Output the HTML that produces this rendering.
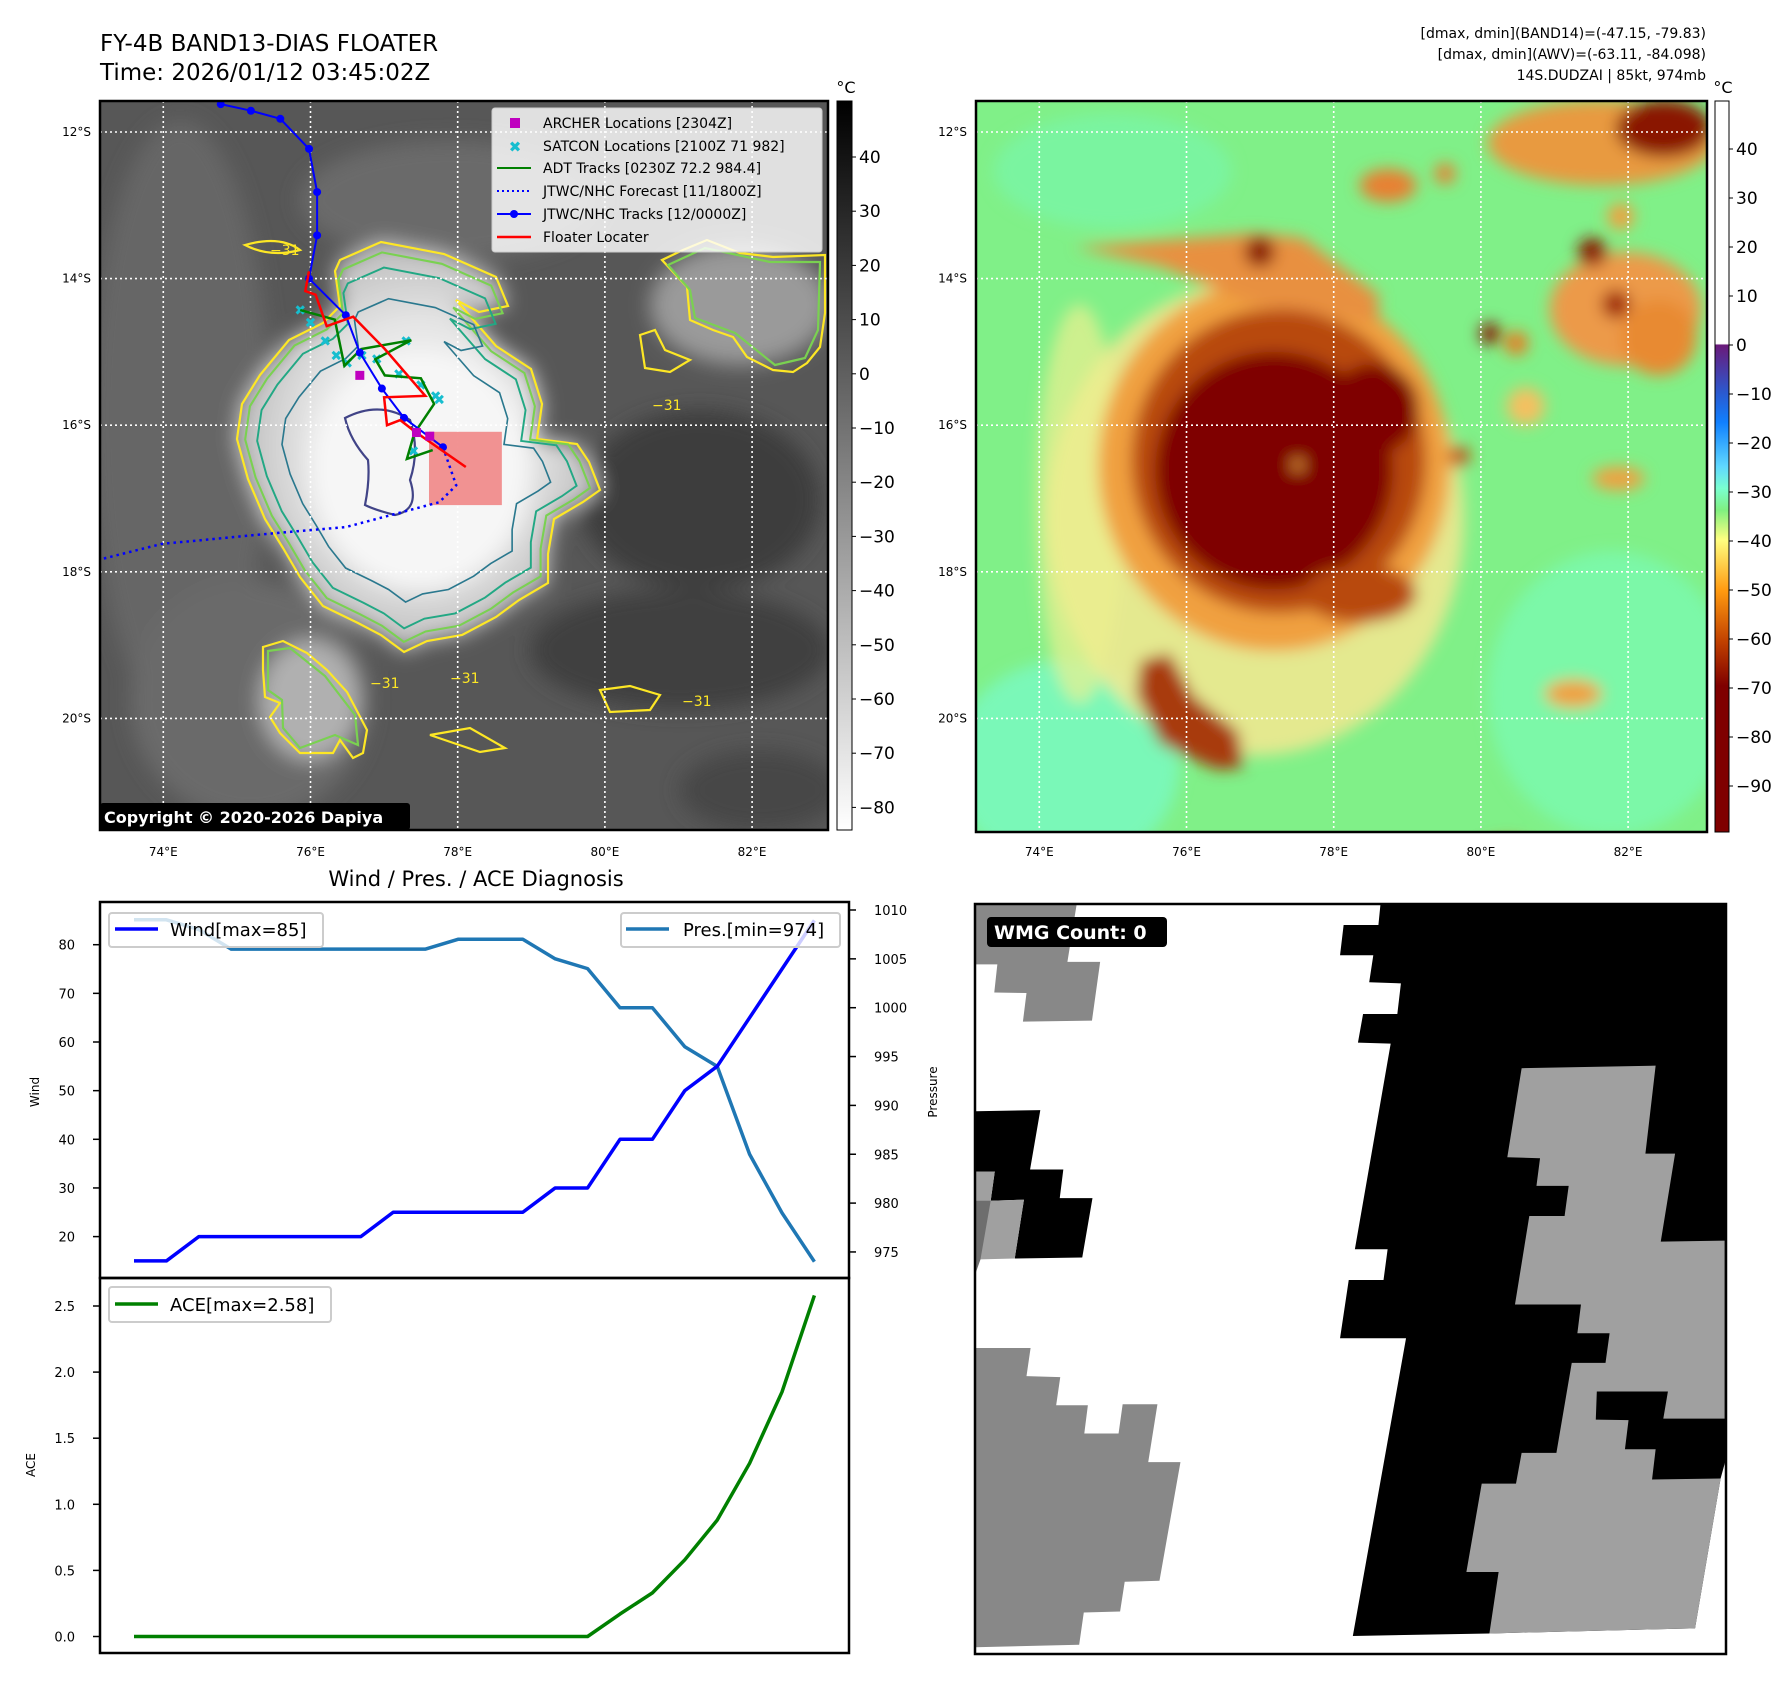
<!DOCTYPE html>
<html><head><meta charset="utf-8">
<style>
html,body{margin:0;padding:0;background:#fff;}
body{width:1792px;height:1690px;overflow:hidden;font-family:"DejaVu Sans","Liberation Sans",sans-serif;}
svg{position:absolute;left:0;top:0;}
text{font-family:"DejaVu Sans","Liberation Sans",sans-serif;}
</style></head>
<body>
<svg id="root" width="1792" height="1690" viewBox="0 0 1792 1690" xmlns="http://www.w3.org/2000/svg">
<defs>
  <filter id="blurL" x="-20%" y="-20%" width="140%" height="140%"><feGaussianBlur stdDeviation="10"/></filter>
  <filter id="blurR" x="-20%" y="-20%" width="140%" height="140%"><feGaussianBlur stdDeviation="16"/></filter>
  <clipPath id="clipL"><rect x="100" y="101" width="728" height="729"/></clipPath>
  <clipPath id="clipR"><rect x="976" y="101" width="731" height="731"/></clipPath>
  <clipPath id="clipW"><rect x="975" y="904" width="751" height="750"/></clipPath>
  <path id="cy" d="M340,260 L381,242 L444,254 L496,277 L508,306 L479,312 L456,300 L496,346 L531,369 L542,404 L537,439 L577,444 L589,462 L600,490 L583,502 L554,519 L548,554 L548,583 L519,600 L496,617 L462,635 L427,641 L404,652 L381,635 L358,623 L323,606 L300,577 L283,548 L265,519 L248,479 L237,439 L242,404 L260,375 L289,340 L323,323 L340,306 L335,271 Z"/>
  <linearGradient id="cbGray" x1="0" y1="0" x2="0" y2="1">
    <stop offset="0" stop-color="#000"/><stop offset="1" stop-color="#fff"/>
  </linearGradient>
  <linearGradient id="cbColor" x1="0" y1="0" x2="0" y2="1">
    <stop offset="0" stop-color="#fff"/>
    <stop offset="0.332" stop-color="#fff"/>
    <stop offset="0.334" stop-color="#6a1a7a"/>
    <stop offset="0.40" stop-color="#2a5ad0"/>
    <stop offset="0.44" stop-color="#1080ff"/>
    <stop offset="0.50" stop-color="#60d8ff"/>
    <stop offset="0.53" stop-color="#7affd0"/>
    <stop offset="0.56" stop-color="#80f080"/>
    <stop offset="0.60" stop-color="#ffff80"/>
    <stop offset="0.67" stop-color="#ff9a10"/>
    <stop offset="0.74" stop-color="#c04000"/>
    <stop offset="0.80" stop-color="#7f0000"/>
    <stop offset="1" stop-color="#7f0000"/>
  </linearGradient>
  <radialGradient id="stormGray" cx="0.5" cy="0.5" r="0.5">
    <stop offset="0" stop-color="#fafafa"/><stop offset="0.6" stop-color="#e6e6e6"/><stop offset="1" stop-color="#bdbdbd"/>
  </radialGradient>
</defs>

<!-- ===== Titles ===== -->
<text x="100" y="51" font-size="23" fill="#000">FY-4B BAND13-DIAS FLOATER</text>
<text x="100" y="80" font-size="23" fill="#000">Time: 2026/01/12 03:45:02Z</text>
<g font-size="14" text-anchor="end" fill="#000">
  <text x="1706" y="38">[dmax, dmin](BAND14)=(-47.15, -79.83)</text>
  <text x="1706" y="59">[dmax, dmin](AWV)=(-63.11, -84.098)</text>
  <text x="1706" y="80">14S.DUDZAI | 85kt, 974mb</text>
</g>

<!-- ===== Left IR map ===== -->
<g id="leftMap" clip-path="url(#clipL)">
  <rect x="100" y="101" width="728" height="729" fill="#575757"/>
  <g filter="url(#blurL)">
    <ellipse cx="180" cy="420" rx="90" ry="300" fill="#666"/>
    <ellipse cx="250" cy="700" rx="120" ry="120" fill="#6a6a6a"/>
    <ellipse cx="700" cy="500" rx="120" ry="90" fill="#3c3c3c"/>
    <ellipse cx="680" cy="650" rx="150" ry="60" fill="#404040"/>
    <ellipse cx="760" cy="790" rx="80" ry="40" fill="#474747"/>
    <ellipse cx="450" cy="200" rx="150" ry="60" fill="#6a6a6a"/>
    <ellipse cx="740" cy="305" rx="90" ry="60" fill="#9a9a9a"/>
    <ellipse cx="310" cy="700" rx="50" ry="60" fill="#b0b0b0"/>
    <use href="#cy" fill="url(#stormGray)"/>
    <ellipse cx="420" cy="470" rx="110" ry="120" fill="#f6f6f6"/>
  </g>
  <!-- contours -->
  <g fill="none" stroke-width="2.2">
    <use href="#cy" stroke="#fde725"/>
    <use href="#cy" transform="translate(400,450) scale(0.95) translate(-400,-450)" stroke="#7ad151"/>
    <use href="#cy" transform="translate(405,455) scale(0.88) translate(-405,-455)" stroke="#22a884"/>
    <use href="#cy" transform="translate(410,460) scale(0.74) translate(-410,-460)" stroke="#2a788e"/>
    <path d="M345,418 Q380,400 410,420 Q420,450 410,480 Q420,510 395,515 Q375,510 365,505 Q370,480 368,460 Q350,440 345,418 Z" stroke="#414487"/>
    <path d="M662,260 L687,287 L690,320 L713,330 L733,337 L747,357 L773,370 L793,372 L807,363 L820,347 L825,313 L825,255 L773,257 L740,253 L707,240 L683,250 Z" stroke="#fde725"/>
    <path d="M668,265 L690,290 L695,318 L735,333 L775,365 L805,358 L818,330 L820,262 L770,262 L705,248 Z" stroke="#7ad151"/>
    <path d="M263,647 L283,641 L307,653 L327,670 L347,692 L367,730 L363,753 L353,758 L340,740 L333,753 L300,753 L280,733 L270,717 L280,703 L265,697 L263,670 Z" stroke="#fde725"/>
    <path d="M268,651 L290,648 L325,676 L355,715 L358,745 L335,735 L300,748 L283,728 L282,700 L268,690 Z" stroke="#7ad151"/>
    <path d="M430,735 L470,728 L505,748 L480,752 Z" stroke="#fde725"/>
    <path d="M600,690 L630,686 L660,695 L650,710 L610,712 Z" stroke="#fde725"/>
    <path d="M640,335 L655,330 L665,350 L690,360 L670,372 L645,368 Z" stroke="#fde725"/>
    <path d="M245,245 Q280,235 300,250 Q270,258 245,245 Z" stroke="#fde725"/>
  </g>
  <g font-size="14" fill="#fde725">
    <text x="270" y="255">−31</text><text x="652" y="410">−31</text><text x="450" y="683">−31</text><text x="370" y="688">−31</text>
    <text x="682" y="706">−31</text>
  </g>
  <g id="gridL" stroke="#fff" stroke-width="1.6" stroke-dasharray="2,3"></g>
  <rect id="floaterBox" fill="#f08080" fill-opacity="0.85"/>
  <g id="tracks"></g>
  <g>
    <rect x="492" y="108" width="330" height="144" rx="3" fill="#fff" fill-opacity="0.82" stroke="#ccc"/>
    <rect x="510" y="118" width="10" height="10" fill="#bf00bf"/>
    <text x="515" y="152" font-size="15" font-weight="bold" fill="#17becf" text-anchor="middle">✖</text>
    <line x1="497" y1="168" x2="531" y2="168" stroke="#008000" stroke-width="2"/>
    <line x1="497" y1="191" x2="531" y2="191" stroke="#0000ff" stroke-width="2" stroke-dasharray="2,3"/>
    <line x1="497" y1="214" x2="531" y2="214" stroke="#0000ff" stroke-width="2"/><circle cx="514" cy="214" r="4" fill="#0000ff"/>
    <line x1="497" y1="237" x2="531" y2="237" stroke="#ff0000" stroke-width="2.5"/>
    <g font-size="14" fill="#000">
      <text x="543" y="128">ARCHER Locations [2304Z]</text>
      <text x="543" y="151">SATCON Locations [2100Z 71 982]</text>
      <text x="543" y="173">ADT Tracks [0230Z 72.2 984.4]</text>
      <text x="543" y="196">JTWC/NHC Forecast [11/1800Z]</text>
      <text x="543" y="219">JTWC/NHC Tracks [12/0000Z]</text>
      <text x="543" y="242">Floater Locater</text>
    </g>
  </g>
  <rect x="100" y="803" width="310" height="27" rx="3" fill="#000"/>
  <text x="104" y="823" font-size="16" font-weight="bold" fill="#fff">Copyright © 2020-2026 Dapiya</text>
</g>
<rect x="100" y="101" width="728" height="729" fill="none" stroke="#000" stroke-width="2.5"/>
<g id="ticksL" font-size="12" fill="#000"></g>

<rect x="837" y="101" width="15" height="729" fill="url(#cbGray)" stroke="#000" stroke-width="1"/>
<text x="846" y="93" font-size="16" text-anchor="middle">°C</text>
<g id="cbLticks" font-size="17" fill="#000"></g>

<!-- ===== Right colored map ===== -->
<g clip-path="url(#clipR)">
  <rect x="976" y="101" width="731" height="731" fill="#80f088"/>
  <g transform="translate(970,100) scale(0.475)" filter="url(#blurR)">
    <ellipse cx="200" cy="1400" rx="240" ry="220" fill="#7af8b8"/>
    <ellipse cx="1350" cy="1250" rx="260" ry="300" fill="#7cf8a8"/>
    <ellipse cx="300" cy="150" rx="250" ry="120" fill="#7af4a0"/>
    <ellipse cx="600" cy="880" rx="440" ry="500" fill="#f6e890" fill-opacity="0.85"/>
    <ellipse cx="230" cy="850" rx="90" ry="420" fill="#eef090" fill-opacity="0.7"/>
    <ellipse cx="640" cy="770" rx="370" ry="390" fill="#f0a040"/>
    <path d="M220,310 L600,280 L700,290 L860,410 L860,470 L600,430 L400,350 Z" fill="#e89040"/>
    <ellipse cx="650" cy="760" rx="310" ry="320" fill="#b84a10"/>
    <ellipse cx="640" cy="780" rx="250" ry="250" fill="#7f0000"/>
    <ellipse cx="850" cy="650" rx="95" ry="95" fill="#7f0000"/>
    <ellipse cx="820" cy="1040" rx="120" ry="60" fill="#b84a10"/>
    <circle cx="610" cy="320" r="32" fill="#8a1a00"/>
    <path d="M360,1180 L420,1165 L470,1255 L565,1330 L575,1405 L520,1410 L400,1355 L375,1300 L350,1250 Z" fill="#a83a08"/>
    <ellipse cx="1330" cy="90" rx="240" ry="90" fill="#e89a40"/>
    <ellipse cx="1460" cy="60" rx="100" ry="60" fill="#8a1800"/>
    <ellipse cx="1380" cy="440" rx="160" ry="120" fill="#ec9a48"/>
    <ellipse cx="1450" cy="500" rx="80" ry="80" fill="#e88a30"/>
    <circle cx="1310" cy="320" r="30" fill="#8a1800"/>
    <circle cx="1360" cy="430" r="30" fill="#a02800"/>
    <circle cx="1095" cy="492" r="22" fill="#8a1000"/>
    <circle cx="1150" cy="512" r="25" fill="#e87a20"/>
    <circle cx="1170" cy="645" r="40" fill="#f4c060"/>
    <ellipse cx="880" cy="180" rx="60" ry="35" fill="#e88030"/>
    <circle cx="1000" cy="155" r="22" fill="#e88030"/>
    <circle cx="1370" cy="245" r="28" fill="#f0a040"/>
    <ellipse cx="1365" cy="797" rx="55" ry="25" fill="#f0a040"/>
    <ellipse cx="1130" cy="1600" rx="70" ry="42" fill="#d86a10"/>
    <ellipse cx="1270" cy="1250" rx="60" ry="30" fill="#f0a040"/>
    <circle cx="1030" cy="750" r="22" fill="#c05010"/>
    <circle cx="690" cy="768" r="12" fill="#f0a040"/>
  </g>
  <g id="gridR" stroke="#fff" stroke-width="1.6" stroke-dasharray="2,3"></g>
</g>
<rect x="976" y="101" width="731" height="731" fill="none" stroke="#000" stroke-width="2.5"/>
<g id="ticksR" font-size="12" fill="#000"></g>
<rect x="1715" y="101" width="14" height="731" fill="url(#cbColor)" stroke="#000" stroke-width="1"/>
<text x="1723" y="93" font-size="16" text-anchor="middle">°C</text>
<g id="cbRticks" font-size="17" fill="#000"></g>

<!-- ===== Bottom-left charts ===== -->
<text x="476" y="886" font-size="21" text-anchor="middle">Wind / Pres. / ACE Diagnosis</text>
<g id="windChart"></g>
<g id="aceChart"></g>

<!-- ===== WMG panel ===== -->
<g clip-path="url(#clipW)">
  <rect x="975" y="904" width="751" height="750" fill="#fff"/>
  <g transform="translate(960,880) scale(0.5115)">
    <polygon points="30,48 228,48 210,160 274,160 258,275 123,277 130,221 67,220 73,165 30,165" fill="#888"/>
    <polygon points="822,48 1498,48 1498,1130 1487,1170 1437,1463 1035,1473 768,1478 872,896 743,896 760,782 828,782 836,722 772,722 842,320 778,318 788,262 855,262 862,202 800,200 808,147 743,147 750,88 818,88" fill="#000"/>
    <polygon points="1098,368 1360,363 1340,535 1398,535 1370,707 1495,705 1495,1053 1375,1053 1384,1000 1245,1000 1243,1055 1307,1056 1300,1113 1360,1113 1353,1172 1487,1170 1437,1463 1035,1473 1053,1353 990,1353 1020,1180 1087,1180 1098,1120 1166,1120 1196,944 1262,944 1270,886 1207,886 1214,830 1085,830 1113,657 1182,657 1190,598 1127,598 1134,544 1070,542" fill="#a0a0a0"/>
    <polygon points="30,452 157,450 137,566 202,566 195,622 259,622 239,738 107,740 125,625 60,627 68,570 30,570" fill="#000"/>
    <polygon points="30,570 68,570 60,627 125,625 107,740 30,742" fill="#a0a0a0"/>
    <polygon points="30,627 60,627 40,742 30,770" fill="#6e6e6e"/>
    <polygon points="30,915 138,915 130,970 196,972 188,1027 250,1027 243,1082 310,1082 318,1025 386,1025 368,1138 431,1138 390,1370 322,1372 313,1430 242,1432 233,1495 30,1500" fill="#888"/>
  </g>
  <rect x="987" y="917" width="180" height="30" rx="4" fill="#000"/>
  <text x="994" y="939" font-size="19" font-weight="bold" fill="#fff">WMG Count: 0</text>
</g>
<rect x="975" y="904" width="751" height="750" fill="none" stroke="#000" stroke-width="2.5"/>
</svg>

<script>
const jtwcLon = [74.78,75.19,75.59,75.98,76.09,76.09,75.98,76.48,76.67,76.97,77.27,77.80];
const jtwcLat = [11.62,11.71,11.82,12.23,12.82,13.41,14.00,14.50,15.01,15.50,15.90,16.30];
const fcstLon = [77.80,77.98,77.75,76.48,75.54,73.98,73.15];
const fcstLat = [16.30,16.82,17.05,17.39,17.47,17.62,17.83];
const floaterLon = [75.98,75.93,76.07,76.22,76.58,77.01,77.56,77.00,77.04,77.22,77.41,78.11];
const floaterLat = [13.90,14.17,14.22,14.65,14.52,14.96,15.60,15.62,16.00,15.93,16.08,16.57];
const adtLon = [75.86,76.33,76.46,76.69,77.37,76.88,77.01,77.50,77.68,77.41,77.31,77.66];
const adtLat = [14.43,14.56,15.19,14.96,14.84,15.10,15.32,15.36,15.71,16.11,16.46,16.34];
const satconLon = [75.86,76.00,76.20,76.35,76.50,76.70,76.90,77.30,77.20,77.50,77.70,77.75,77.40];
const satconLat = [14.43,14.60,14.85,15.05,15.15,15.05,15.10,14.85,15.30,15.45,15.60,15.65,16.35];
const archerLon = [76.67,77.62,77.44];
const archerLat = [15.32,16.15,16.10];
const boxLon = [77.61,78.60];
const boxLat = [16.09,17.09];
const gridLons = [74,76,78,80,82];
const gridLats = [12,14,16,18,20];
const irTicks = [40,30,20,10,0,-10,-20,-30,-40,-50,-60,-70,-80];
const awvTicks = [40,30,20,10,0,-10,-20,-30,-40,-50,-60,-70,-80,-90];

const windVals = [15,15,20,20,20,20,20,20,25,25,25,25,25,30,30,40,40,50,55,65,75,85];
const presVals = [1009,1009,1008,1006,1006,1006,1006,1006,1006,1006,1007,1007,1007,1005,1004,1000,1000,996,994,985,979,974];
const aceVals = [0,0,0,0,0,0,0,0,0,0,0,0,0,0,0,0.17,0.33,0.58,0.88,1.31,1.85,2.58];
const windTicks = [20,30,40,50,60,70,80];
const presTicks = [975,980,985,990,995,1000,1005,1010];
const aceTicks = [0,0.5,1,1.5,2,2.5];

const NS = 'http://www.w3.org/2000/svg';
function mk(tag, attrs, parent){ const e=document.createElementNS(NS,tag); for(const k in attrs) e.setAttribute(k,attrs[k]); if(parent) parent.appendChild(e); return e; }

const lonX = lon => 100 + (lon - 73.14) * 73.6;
const latY = lat => 132 + (lat - 12) * 73.3;
const lonXR = lon => 976 + (lon - 73.14) * 73.6;

const gL = document.getElementById('gridL'), gR = document.getElementById('gridR');
const tL = document.getElementById('ticksL'), tR = document.getElementById('ticksR');
gridLons.forEach(lon => {
  let l = mk('line',{x1:lonX(lon),y1:101,x2:lonX(lon),y2:830},gL);
   
  let l2 = mk('line',{x1:lonXR(lon),y1:101,x2:lonXR(lon),y2:832},gR);
   
  let t = mk('text',{x:lonX(lon),y:856,'text-anchor':'middle'},tL); t.textContent = lon+'°E';
   
  let t2 = mk('text',{x:lonXR(lon),y:856,'text-anchor':'middle'},tR); t2.textContent = lon+'°E';
   
});
gridLats.forEach(lat => {
  let l = mk('line',{x1:100,y1:latY(lat),x2:828,y2:latY(lat)},gL);
   
  let l2 = mk('line',{x1:976,y1:latY(lat),x2:1707,y2:latY(lat)},gR);
   
  let t = mk('text',{x:91,y:latY(lat)+4,'text-anchor':'end'},tL); t.textContent = lat+'°S';
   
  let t2 = mk('text',{x:967,y:latY(lat)+4,'text-anchor':'end'},tR); t2.textContent = lat+'°S';
   
});

const cbL = document.getElementById('cbLticks');
const irY = v => 157 + (40 - v) * 5.42;
irTicks.forEach(v => {
  mk('line',{x1:852,y1:irY(v),x2:856,y2:irY(v),stroke:'#000'},cbL);
  let t = mk('text',{x:859,y:irY(v)+6},cbL); t.textContent = (v<0?'−'+(-v):v);
   
});
const cbR = document.getElementById('cbRticks');
const awvY = v => 345 - v * 4.9;
awvTicks.forEach(v => {
  mk('line',{x1:1729,y1:awvY(v),x2:1733,y2:awvY(v),stroke:'#000'},cbR);
  let t = mk('text',{x:1736,y:awvY(v)+6},cbR); t.textContent = (v<0?'−'+(-v):v);
   
});

const fb = document.getElementById('floaterBox');
fb.setAttribute('x', lonX(boxLon[0])); fb.setAttribute('y', latY(boxLat[0]));
fb.setAttribute('width', lonX(boxLon[1]) - lonX(boxLon[0])); fb.setAttribute('height', latY(boxLat[1]) - latY(boxLat[0]));

const tr = document.getElementById('tracks');
function pts(lons, lats){ return lons.map((lo,i)=> lonX(lo).toFixed(1)+','+latY(lats[i]).toFixed(1)).join(' '); }
satconLon.forEach((lo,i) => {
  let m = mk('text',{x:lonX(lo),y:latY(satconLat[i])+5,'font-size':14,'font-weight':'bold',fill:'#17becf','text-anchor':'middle'},tr);
  m.textContent='✖';
   
});
let fc = mk('polyline',{points:pts(fcstLon,fcstLat),fill:'none',stroke:'#0000ff','stroke-width':2.5,'stroke-dasharray':'2.5,4'},tr);
 
let ad = mk('polyline',{points:pts(adtLon,adtLat),fill:'none',stroke:'#008000','stroke-width':2.5},tr);
 
let jt = mk('polyline',{points:pts(jtwcLon,jtwcLat),fill:'none',stroke:'#0000ff','stroke-width':2},tr);
 
jtwcLon.forEach((lo,i) => {
  let c = mk('circle',{cx:lonX(lo),cy:latY(jtwcLat[i]),r:4,fill:'#0000ff'},tr);
   
});
let fl = mk('polyline',{points:pts(floaterLon,floaterLat),fill:'none',stroke:'#ff0000','stroke-width':2.5},tr);
 
archerLon.forEach((lo,i) => {
  let r = mk('rect',{x:lonX(lo)-4.5,y:latY(archerLat[i])-4.5,width:9,height:9,fill:'#bf00bf'},tr);
   
});

const xi = i => 134 + i * 32.4;
const wy = v => 944.7 - (v - 80) * 4.865;
const py = p => 910 + (1010 - p) * 9.77;
const ay = a => 1636.5 - a * 132.2;
const wc = document.getElementById('windChart');
mk('rect',{x:100,y:902,width:749,height:376,fill:'#fff'},wc);
windTicks.forEach(v => {
  mk('line',{x1:93,y1:wy(v),x2:100,y2:wy(v),stroke:'#000','stroke-width':1.5},wc);
  let t = mk('text',{x:75,y:wy(v)+5,'font-size':13,'text-anchor':'end'},wc); t.textContent=v;
   
});
presTicks.forEach(v => {
  mk('line',{x1:849,y1:py(v),x2:856,y2:py(v),stroke:'#000','stroke-width':1.5},wc);
  let t = mk('text',{x:874,y:py(v)+5,'font-size':13},wc); t.textContent=v;
   
});
let wl = mk('text',{x:0,y:0,'font-size':12,'text-anchor':'middle',transform:'translate(39,1092) rotate(-90)'},wc); wl.textContent='Wind';
 
let pl = mk('text',{x:0,y:0,'font-size':12,'text-anchor':'middle',transform:'translate(937,1092) rotate(-90)'},wc); pl.textContent='Pressure';
 
let pline = mk('polyline',{points:presVals.map((p,i)=>xi(i)+','+py(p)).join(' '),fill:'none',stroke:'#1f77b4','stroke-width':3.5,'stroke-linejoin':'round'},wc);
 
let wline = mk('polyline',{points:windVals.map((v,i)=>xi(i)+','+wy(v)).join(' '),fill:'none',stroke:'#0000ff','stroke-width':3.5,'stroke-linejoin':'round'},wc);
 
let lg1 = mk('g',{},wc);  
mk('rect',{x:109,y:913,width:214,height:34,rx:3,fill:'#fff','fill-opacity':0.8,stroke:'#ccc','stroke-width':2},lg1);
mk('line',{x1:115,y1:929,x2:158,y2:929,stroke:'#0000ff','stroke-width':3.5},lg1);
let t1 = mk('text',{x:170,y:936,'font-size':18},lg1); t1.textContent='Wind[max=85]';
let lg2 = mk('g',{},wc);  
mk('rect',{x:621,y:913,width:219,height:34,rx:3,fill:'#fff','fill-opacity':0.8,stroke:'#ccc','stroke-width':2},lg2);
mk('line',{x1:626,y1:929,x2:669,y2:929,stroke:'#1f77b4','stroke-width':3.5},lg2);
let t2 = mk('text',{x:683,y:936,'font-size':18},lg2); t2.textContent='Pres.[min=974]';
mk('rect',{x:100,y:902,width:749,height:376,fill:'none',stroke:'#000','stroke-width':2.5},wc);

const ac = document.getElementById('aceChart');
aceTicks.forEach(v => {
  mk('line',{x1:93,y1:ay(v),x2:100,y2:ay(v),stroke:'#000','stroke-width':1.5},ac);
  let t = mk('text',{x:75,y:ay(v)+5,'font-size':13,'text-anchor':'end'},ac); t.textContent=v.toFixed(1);
   
});
let al = mk('text',{x:0,y:0,'font-size':12,'text-anchor':'middle',transform:'translate(35,1465) rotate(-90)'},ac); al.textContent='ACE';
 
let aline = mk('polyline',{points:aceVals.map((a,i)=>xi(i)+','+ay(a)).join(' '),fill:'none',stroke:'#008000','stroke-width':3.5,'stroke-linejoin':'round'},ac);
 
let lg3 = mk('g',{},ac);  
mk('rect',{x:109,y:1287,width:222,height:35,rx:3,fill:'#fff','fill-opacity':0.8,stroke:'#ccc','stroke-width':2},lg3);
mk('line',{x1:115,y1:1304,x2:158,y2:1304,stroke:'#008000','stroke-width':3.5},lg3);
let t3 = mk('text',{x:170,y:1311,'font-size':18},lg3); t3.textContent='ACE[max=2.58]';
mk('rect',{x:100,y:1278,width:749,height:375,fill:'none',stroke:'#000','stroke-width':2.5},ac);
</script>
</body></html>
